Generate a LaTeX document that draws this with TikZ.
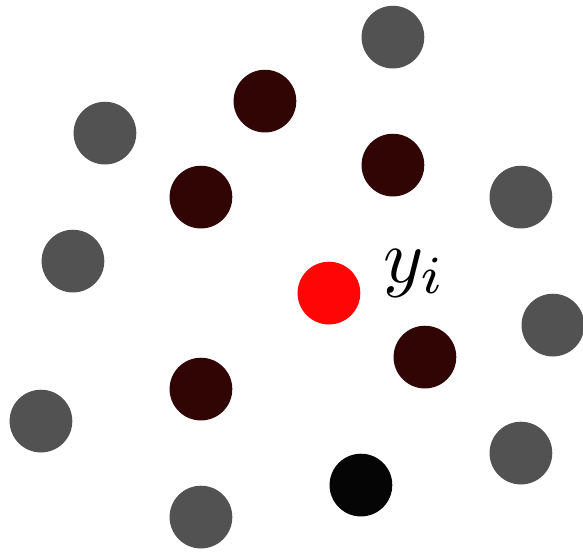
\documentclass[tikz,border=0pt]{standalone}
\usepackage{amsmath}
\usepackage{tikz}
\usetikzlibrary{positioning}
\definecolor{fargray}{RGB}{82,82,82}
\definecolor{neardark}{RGB}{50,5,5}
\definecolor{picked}{RGB}{5,5,5}
\definecolor{anchorred}{RGB}{255,5,5}

\begin{document}
\begin{tikzpicture}[x=0.5cm,y=0.5cm,
    dot/.style={circle,minimum size=0.98cm,inner sep=0pt,draw=none},
    far/.style={dot,fill=fargray},
    near/.style={dot,fill=neardark},
    pick/.style={dot,fill=picked},
    query/.style={dot,fill=anchorred}]
    \useasboundingbox (-10.28,-8.16) rectangle (7.94,9.16);
    % outer ring
    \foreach \n/\x/\y in {f1/2/8,f2/-7/5,f3/6/3,f4/-8/1,f5/7/-1,f6/-9/-4,f7/6/-5,f8/-4/-7}{\node[far] (\n) at (\x,\y) {};}
    % inner ring
    \foreach \n/\x/\y in {n1/-2/6,n2/2/4,n3/-4/3,n4/3/-2,n5/-4/-3}{\node[near] (\n) at (\x,\y) {};}
    \node[pick] (p) at (1,-6) {};
    \node[query] (y) at (0,0) {};
    \node[scale=3.4] (ylab) at (2.68,0.62) {$y_i$};
\end{tikzpicture}
\end{document}
